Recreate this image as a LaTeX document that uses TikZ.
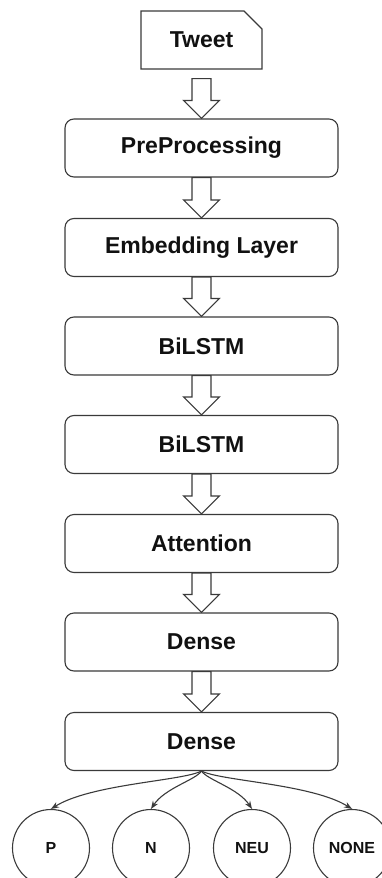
\documentclass[tikz,border=0pt]{standalone}
\usepackage{fontspec}
\setmainfont{Liberation Sans}
\usetikzlibrary{arrows.meta,shapes.misc,calc}
\definecolor{edgegray}{HTML}{3A3A3A}
\definecolor{labelblack}{HTML}{111111}
\tikzset{
  layer/.style={
    draw=edgegray,
    rounded corners=9pt,
    line width=1.1pt,
    minimum width=273pt,
    minimum height=58pt,
    align=center,
    font=\fontsize{23}{27}\selectfont\bfseries,
    text=labelblack,
    fill=white,
    inner sep=4pt
  },
  card/.style={
    chamfered rectangle,
    chamfered rectangle corners=north east,
    chamfered rectangle xsep=9pt,
    chamfered rectangle ysep=9pt,
    draw=edgegray,
    line width=1.1pt,
    minimum width=121pt,
    minimum height=58pt,
    font=\fontsize{23}{27}\selectfont\bfseries,
    text=labelblack,
    inner sep=4pt
  },
  outcome/.style={
    circle,
    draw=edgegray,
    line width=1.1pt,
    minimum size=77pt,
    font=\fontsize{16}{19}\selectfont\bfseries,
    text=labelblack,
    inner sep=2pt
  },
  blockarrow/.style={draw=edgegray, line width=1.1pt, fill=white, line join=miter},
  fan/.style={-{Stealth[length=8pt,width=6pt]}, line width=1.1pt, draw=edgegray}
}

\begin{document}
\begin{tikzpicture}[x=1pt,y=-1pt]

\useasboundingbox (0,0) rectangle (382,878);
\clip (0,0) rectangle (382,878);

% Input
\node[card] (tweet) at (201.5,40) {Tweet};

% Layer stack
\node[layer] (prep) at (201.5,148) {PreProcessing};
\node[layer] (embed) at (201.5,247.5) {Embedding Layer};
\node[layer] (bilstma) at (201.5,346) {BiLSTM};
\node[layer] (bilstmb) at (201.5,444.5) {BiLSTM};
\node[layer] (attn) at (201.5,543.5) {Attention};
\node[layer] (densea) at (201.5,642) {Dense};
\node[layer] (denseb) at (201.5,741.5) {Dense};

% Hollow arrows between layers
\draw[blockarrow] ($(tweet.south)+(-9.5,9)$) -- ($(prep.north)+(-9.5,-18)$) -- ($(prep.north)+(-18,-18)$) -- (prep.north) -- ($(prep.north)+(18,-18)$) -- ($(prep.north)+(9.5,-18)$) -- ($(tweet.south)+(9.5,9)$) -- cycle;
\foreach \a/\b in {prep/embed, embed/bilstma, bilstma/bilstmb, bilstmb/attn, attn/densea, densea/denseb} {
  \draw[blockarrow] ($(\a.south)+(-9.5,0)$) -- ($(\b.north)+(-9.5,-18)$) -- ($(\b.north)+(-18,-18)$) -- (\b.north) -- ($(\b.north)+(18,-18)$) -- ($(\b.north)+(9.5,-18)$) -- ($(\a.south)+(9.5,0)$) -- cycle;
}

% Output classes
\node[outcome] (pos) at (51,848) {P};
\node[outcome] (neg) at (151,848) {N};
\node[outcome] (neu) at (252,848) {NEU};
\node[outcome] (none) at (352,848) {NONE};

\draw[fan] (denseb.south) .. controls +(-20,10) and +(40,-25) .. (pos.north);
\draw[fan] (denseb.south) .. controls +(-6,9) and +(14,-21) .. (neg.north);
\draw[fan] (denseb.south) .. controls +(6,9) and +(-14,-21) .. (neu.north);
\draw[fan] (denseb.south) .. controls +(20,10) and +(-40,-25) .. (none.north);

\end{tikzpicture}
\end{document}
